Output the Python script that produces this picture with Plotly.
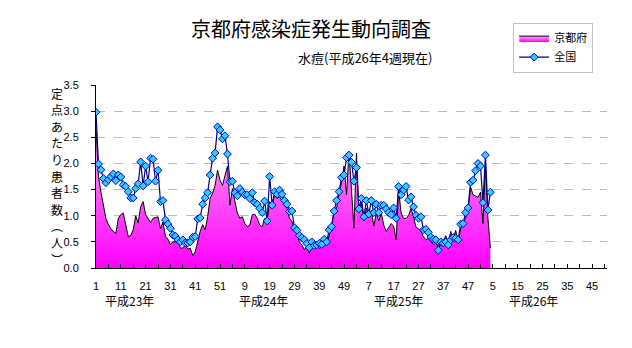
import plotly.graph_objects as go

# ---- data (weekly, 平成23年第1週 .. 平成26年第4週) ----
kyoto = [
    2.70, 1.75, 1.45, 1.20, 0.95, 0.83, 0.75, 0.70, 0.66, 0.95,
    1.02, 1.05, 0.80, 0.60, 0.62, 0.73, 1.00, 0.86, 1.17, 1.27,
    1.02, 0.95, 0.87, 0.95, 0.96, 0.98, 0.75, 0.88, 0.60, 0.55,
    0.45, 0.50, 0.50, 0.57, 0.38, 0.38, 0.44, 0.36, 0.38, 0.24,
    0.31, 0.54, 0.70, 0.83, 0.73, 0.98, 1.33, 1.43, 1.58, 1.87,
    1.68, 1.58, 1.78, 1.95, 1.20, 1.52, 1.27, 1.05, 0.95, 0.98,
    0.85, 0.79, 0.82, 1.02, 1.03, 0.95, 0.82, 0.79, 0.95, 0.92,
    1.27, 1.20, 1.40, 1.33, 1.36, 1.27, 1.20, 1.14, 0.95, 0.89,
    0.73, 0.66, 0.50, 0.44, 0.35, 0.42, 0.28, 0.41, 0.38, 0.44,
    0.37, 0.41, 0.45, 0.44, 0.66, 0.82, 1.11, 1.14, 1.46, 1.62,
    1.95, 1.40, 2.22, 1.55, 0.76, 2.20, 1.05, 1.25, 0.90, 1.15,
    1.00, 1.10, 0.80, 1.05, 0.90, 1.05, 0.82, 0.70, 0.78, 0.85,
    0.80, 0.54, 1.50, 1.05, 0.95, 0.95, 1.00, 1.14, 0.98, 0.78,
    0.75, 0.70, 0.60, 0.54, 0.57, 0.50, 0.45, 0.47, 0.41, 0.57,
    0.50, 0.62, 0.48, 0.70, 0.55, 0.72, 0.50, 0.75, 0.88, 0.95,
    1.10, 1.55, 1.40, 1.38, 1.35, 1.45, 0.85, 1.95, 0.95, 0.38,
]
zenkoku = [
    2.98, 1.99, 1.88, 1.71, 1.63, 1.69, 1.75, 1.80, 1.67, 1.78,
    1.74, 1.59, 1.56, 1.46, 1.34, 1.34, 1.52, 1.61, 2.03, 1.57,
    1.95, 1.65, 2.10, 2.08, 1.66, 1.87, 1.27, 1.29, 0.92, 0.84,
    0.76, 0.63, 0.61, 0.54, 0.50, 0.54, 0.48, 0.48, 0.50, 0.59,
    0.60, 0.94, 0.96, 1.22, 1.34, 1.44, 1.78, 2.10, 2.20, 2.70,
    2.64, 2.47, 2.53, 2.18, 1.65, 1.66, 1.44, 1.38, 1.52, 1.45,
    1.40, 1.40, 1.33, 1.44, 1.25, 1.22, 1.14, 1.06, 1.28, 0.90,
    1.75, 1.20, 1.46, 1.41, 1.49, 1.41, 1.29, 1.22, 1.08, 1.09,
    0.77, 0.72, 0.62, 0.58, 0.54, 0.47, 0.39, 0.50, 0.43, 0.44,
    0.47, 0.45, 0.55, 0.50, 0.73, 0.79, 1.09, 1.29, 1.46, 1.73,
    1.78, 2.11, 2.16, 2.02, 1.66, 1.92, 1.13, 1.33, 0.98, 1.29,
    1.03, 1.29, 1.06, 1.22, 1.06, 1.20, 1.20, 1.13, 1.06, 1.02,
    1.15, 0.95, 1.56, 1.40, 1.49, 1.56, 1.30, 1.36, 1.17, 1.01,
    0.95, 0.98, 0.73, 0.74, 0.68, 0.59, 0.55, 0.54, 0.34, 0.50,
    0.48, 0.50, 0.44, 0.54, 0.58, 0.57, 0.54, 0.84, 0.85, 1.06,
    1.15, 1.64, 1.68, 1.86, 2.00, 1.95, 1.25, 2.16, 1.11, 1.45,
]
week_index = list(range(1, len(kyoto) + 1))

tick_labels = ["1", "11", "21", "31", "41", "51", "9", "19", "29", "39", "49",
               "7", "17", "27", "37", "47", "5", "15", "25", "35", "45"]
year_labels = ["平成23年", "平成24年", "平成25年", "平成26年"]
ylabel_chars = ["定", "点", "あ", "た", "り", "患", "者", "数", "︵", "人", "︶"]

# ticks every 5 weeks, labels every 10 weeks
tickvals = []
ticktext = []
for i, lab in enumerate(tick_labels):
    tickvals.append(1 + 10 * i)
    ticktext.append(lab)
    tickvals.append(6 + 10 * i)
    ticktext.append("")

FONT = "Noto Sans CJK JP"

fig = go.Figure()
fig.add_trace(go.Scatter(
    x=week_index, y=kyoto, name="京都府", mode="lines",
    line=dict(color="black", width=1),
    fill="tozeroy",
    fillgradient=dict(type="vertical",
                      colorscale=[[0, "#FF00FF"], [1, "#FFA8F0"]]),
))
fig.add_trace(go.Scatter(
    x=week_index, y=zenkoku, name="全国", mode="lines+markers",
    line=dict(color="#000080", width=1.2),
    marker=dict(symbol="diamond", size=6, color="#33CCFF",
                line=dict(color="#0000CC", width=1)),
))

fig.update_layout(
    width=632, height=348,
    margin=dict(l=96, r=25, t=85, b=80, autoexpand=False),
    paper_bgcolor="white", plot_bgcolor="white",
    font=dict(family=FONT, size=12, color="black"),
    showlegend=True,
    legend=dict(xref="container", yref="container", x=0.812, y=0.935,
                xanchor="left", yanchor="top",
                bordercolor="#C0C0C0", borderwidth=1,
                font=dict(family=FONT, size=11),
                itemwidth=30, tracegroupgap=0),
    xaxis=dict(range=[1, 207], tickmode="array", tickvals=tickvals,
               ticktext=ticktext, ticks="inside", ticklen=4,
               tickcolor="black", showline=True, linecolor="black",
               linewidth=1, showgrid=False, zeroline=False,
               tickfont=dict(family="Liberation Sans", size=11),
               ticklabelstandoff=8),
    yaxis=dict(range=[0, 3.5], dtick=0.5, tickformat=".1f",
               ticks="outside", ticklen=4, tickcolor="black",
               showline=True, linecolor="black", linewidth=1,
               showgrid=True, gridcolor="#BBBBBB", griddash="dash",
               zeroline=False,
               tickfont=dict(family="Liberation Sans", size=11),
               ticklabelstandoff=10),
)

annotations = [
    dict(text="京都府感染症発生動向調査", xref="paper", yref="paper",
         x=0.4207, y=1.311, showarrow=False, xanchor="center",
         yanchor="middle", font=dict(family=FONT, size=20)),
    dict(text="水痘(平成26年4週現在)", xref="paper", yref="paper",
         x=0.526, y=1.153, showarrow=False, xanchor="center",
         yanchor="middle", font=dict(family=FONT, size=13)),
]
# vertical axis title, one character per line (top-to-bottom)
n = len(ylabel_chars)
top_px, step_px, plot_h = 93.0, 16.6, 183.0
for k, ch in enumerate(ylabel_chars):
    ypx = top_px + k * step_px
    annotations.append(dict(text=ch, xref="paper", yref="paper",
                            x=-0.0763, y=(268.0 - ypx) / plot_h,
                            showarrow=False, xanchor="center",
                            yanchor="middle", font=dict(family=FONT, size=12)))
year_pos = [14.5, 68.5, 122.9, 177.5]
for lab, xp in zip(year_labels, year_pos):
    annotations.append(dict(text=lab, xref="x", yref="paper", x=xp,
                            y=-0.175, showarrow=False, xanchor="center",
                            yanchor="middle", font=dict(family=FONT, size=12)))
fig.update_layout(annotations=annotations)

fig.write_html("out.html")
